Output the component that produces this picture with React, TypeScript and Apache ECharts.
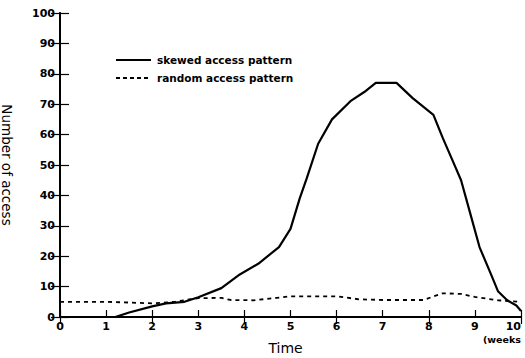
import React, { useEffect, useRef } from "react";
import * as echarts from "echarts";

const skewedX = [0, 1.2, 1.5, 2, 2.3, 2.7, 3, 3.5, 3.9, 4.3, 4.75, 5.0, 5.2, 5.35, 5.6, 5.9, 6.3, 6.6, 6.85, 7.3, 7.65, 8.1, 8.3, 8.5, 8.7, 8.9, 9.1, 9.35, 9.5, 9.7, 9.9, 10];
const skewedY = [0, 0, 1.5, 3.5, 4.5, 5, 6.5, 9.5, 14, 17.5, 23, 29, 39, 45.5, 57, 65, 71, 74, 77, 77, 72, 66.5, 59, 52, 45, 34, 23, 14, 8.5, 5.5, 3.8, 2];
const randomX = [0, 1, 2, 2.5, 2.8, 3, 3.5, 3.7, 4.2, 4.7, 5, 6, 6.5, 7, 7.9, 8.1, 8.3, 8.7, 9, 9.5, 10];
const randomY = [5, 5, 4.5, 5, 5.8, 6.2, 6.3, 5.6, 5.5, 6.3, 6.8, 6.8, 5.8, 5.6, 5.6, 6.8, 7.8, 7.6, 6.6, 5.5, 5];
const seriesNames = ["skewed access pattern", "random access pattern"];
const xTicks = [0, 1, 2, 3, 4, 5, 6, 7, 8, 9, 10];

const FONT = "DejaVu Sans";

export default function App() {
  const ref = useRef<HTMLDivElement>(null);
  useEffect(() => {
    const chart = echarts.init(ref.current!, null, { renderer: "svg" });
    const skewed = skewedX.map((x, i) => [x, skewedY[i]]);
    const random = randomX.map((x, i) => [x, randomY[i]]);
    const legendText = { fontFamily: FONT, fontSize: 10.5, fontWeight: "bold", fill: "#000" };
    chart.setOption({
      animation: false,
      backgroundColor: "#ffffff",
      grid: { left: 60, right: 4, top: 13, bottom: 41, outerBoundsMode: "none", containLabel: false },
      xAxis: [
        {
          type: "value",
          min: 0,
          max: 10,
          interval: 1,
          name: "Time",
          nameLocation: "middle",
          nameGap: 24,
          nameTextStyle: { fontFamily: FONT, fontSize: 14, color: "#000", padding: [0, 10, 0, 0] },
          axisLine: { show: true, lineStyle: { color: "#000", width: 2 } },
          axisTick: { show: true, inside: true, length: 7, lineStyle: { color: "#000", width: 1.2 } },
          axisLabel: {
            margin: 4,
            fontFamily: FONT,
            fontSize: 11,
            fontWeight: "bold",
            color: "#000",
            alignMaxLabel: "right",
            formatter: (v: number) => (xTicks.includes(v) ? String(v) : ""),
          },
          splitLine: { show: false },
        },
        {
          type: "value",
          position: "top",
          min: 0,
          max: 10,
          interval: 2,
          axisLine: { show: true, lineStyle: { color: "#000", width: 1.5 } },
          axisTick: { show: true, inside: true, length: 7, lineStyle: { color: "#000", width: 1.2 } },
          axisLabel: { show: false },
          splitLine: { show: false },
        },
      ],
      yAxis: [
        {
          type: "value",
          min: 0,
          max: 100,
          interval: 10,
          name: "Number of access",
          nameLocation: "middle",
          nameRotate: -90,
          nameGap: 46,
          nameTextStyle: { fontFamily: FONT, fontSize: 13.5, color: "#000" },
          axisLine: { show: true, lineStyle: { color: "#000", width: 2 } },
          axisTick: { show: true, inside: true, length: 9, lineStyle: { color: "#000", width: 1.2 } },
          axisLabel: { margin: 5, fontFamily: FONT, fontSize: 11, fontWeight: "bold", color: "#000" },
          splitLine: { show: false },
        },
        {
          type: "value",
          position: "right",
          min: 0,
          max: 100,
          interval: 10,
          axisLine: { show: true, lineStyle: { color: "#000", width: 1.5 } },
          axisTick: { show: true, inside: true, length: 9, lineStyle: { color: "#000", width: 1.2 } },
          axisLabel: { show: false },
          splitLine: { show: false },
        },
      ],
      series: [
        {
          name: seriesNames[0],
          type: "line",
          data: skewed,
          symbol: "none",
          lineStyle: { color: "#000", width: 2.2, type: "solid" },
          itemStyle: { color: "#000" },
        },
        {
          name: seriesNames[1],
          type: "line",
          data: random,
          symbol: "none",
          lineStyle: { color: "#000", width: 1.8, type: [4, 4] },
          itemStyle: { color: "#000" },
        },
      ],
      graphic: [
        {
          type: "line",
          shape: { x1: 116, y1: 60, x2: 151, y2: 60 },
          style: { stroke: "#000", lineWidth: 2 },
        },
        {
          type: "text",
          x: 157,
          y: 60,
          style: { ...legendText, text: seriesNames[0], verticalAlign: "middle" },
        },
        {
          type: "line",
          shape: { x1: 116, y1: 78, x2: 151, y2: 78 },
          style: { stroke: "#000", lineWidth: 1.8, lineDash: [4, 3] },
        },
        {
          type: "text",
          x: 157,
          y: 78,
          style: { ...legendText, text: seriesNames[1], verticalAlign: "middle" },
        },
        {
          type: "text",
          x: 483,
          y: 334,
          style: { text: "(weeks", fontFamily: FONT, fontSize: 9.5, fontWeight: "bold", fill: "#000" },
        },
      ],
    });
    return () => chart.dispose();
  }, []);
  return <div ref={ref} style={{ width: 525, height: 358, position: "absolute", left: 0, top: 0 }} />;
}
